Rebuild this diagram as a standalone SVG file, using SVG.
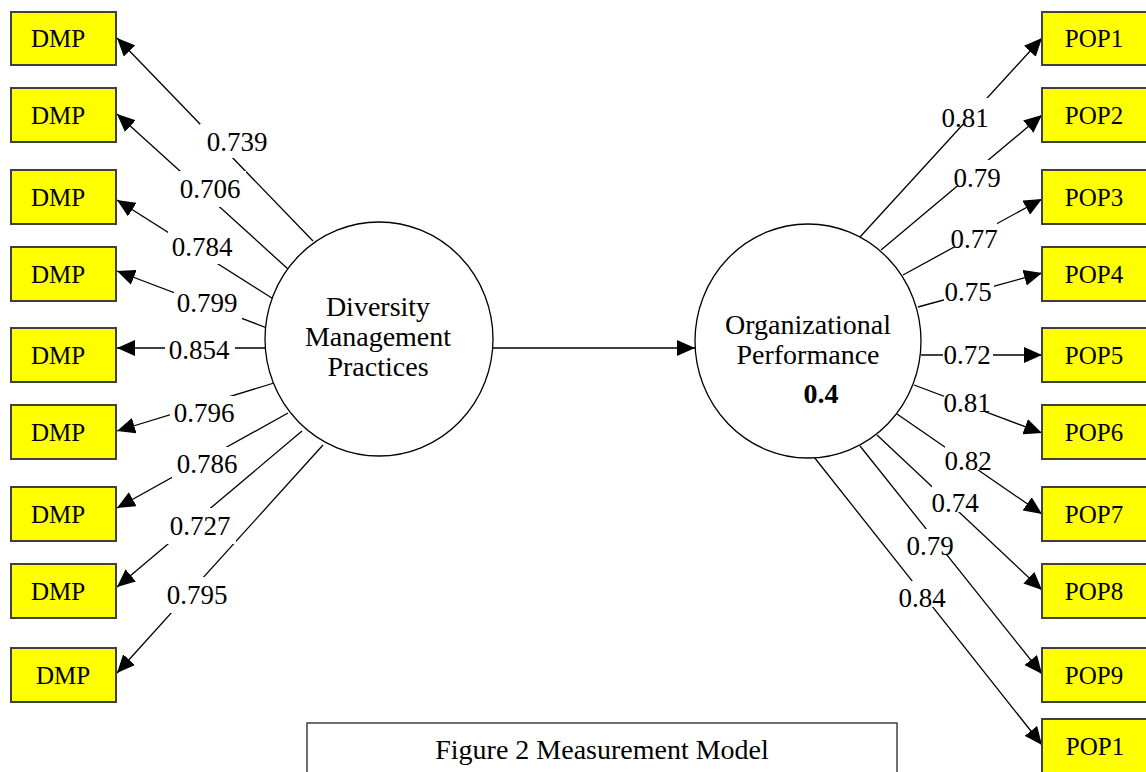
<svg xmlns="http://www.w3.org/2000/svg" width="1146" height="772" viewBox="0 0 1146 772">
<defs>
<marker id="ah" markerWidth="18" markerHeight="16" refX="18" refY="8" orient="auto" markerUnits="userSpaceOnUse">
<path d="M0,0 L18,8 L0,16 Z" fill="#000"/>
</marker>
<style>
.box{fill:#ffff00;stroke:#404040;stroke-width:2}
.bt{font-family:"Liberation Serif","Times New Roman",serif;font-size:25px;fill:#000;text-anchor:middle}
.lat{fill:#fff;stroke:#000;stroke-width:1.3}
.ct{font-family:"Liberation Serif","Times New Roman",serif;font-size:28px;fill:#000;text-anchor:middle}
.edge{stroke:#000;stroke-width:1.3;fill:none;marker-end:url(#ah)}
.lbl{font-family:"Liberation Serif","Times New Roman",serif;font-size:27px;fill:#000;text-anchor:middle}
.bg{fill:#fff}
</style>
</defs>
<rect width="1146" height="772" fill="#fff"/>

<g id="connectors">
<line class="edge" x1="313" y1="241" x2="117" y2="38"/>
<line class="edge" x1="288" y1="269" x2="117" y2="114"/>
<line class="edge" x1="275" y1="300" x2="117" y2="200"/>
<line class="edge" x1="267" y1="328" x2="117" y2="271"/>
<line class="edge" x1="266" y1="348" x2="117" y2="348"/>
<line class="edge" x1="274" y1="383" x2="117" y2="431"/>
<line class="edge" x1="288" y1="413" x2="117" y2="508"/>
<line class="edge" x1="302" y1="431" x2="117" y2="587"/>
<line class="edge" x1="323" y1="445" x2="117" y2="673"/>
<line class="edge" x1="493" y1="348" x2="695" y2="348"/>
<line class="edge" x1="860" y1="237" x2="1042" y2="38"/>
<line class="edge" x1="881" y1="250" x2="1042" y2="115"/>
<line class="edge" x1="903" y1="275" x2="1042" y2="199"/>
<line class="edge" x1="918" y1="307" x2="1042" y2="273"/>
<line class="edge" x1="921" y1="355" x2="1042" y2="355"/>
<line class="edge" x1="914" y1="385" x2="1042" y2="433"/>
<line class="edge" x1="897" y1="414" x2="1042" y2="514"/>
<line class="edge" x1="877" y1="435" x2="1042" y2="590"/>
<line class="edge" x1="860" y1="446" x2="1042" y2="674"/>
<line class="edge" x1="814" y1="457" x2="1042" y2="745"/>
</g>

<g id="edge-labels">
<rect class="bg" x="200" y="124" width="74" height="34"/><text class="lbl" x="237" y="151">0.739</text>
<rect class="bg" x="176" y="171" width="70" height="36"/><text class="lbl" x="210" y="198">0.706</text>
<rect class="bg" x="168" y="230" width="70" height="34"/><text class="lbl" x="202" y="256">0.784</text>
<rect class="bg" x="174" y="287" width="68" height="32"/><text class="lbl" x="207" y="312">0.799</text>
<rect class="bg" x="165" y="334" width="70" height="32"/><text class="lbl" x="199" y="359">0.854</text>
<rect class="bg" x="170" y="396" width="70" height="34"/><text class="lbl" x="204" y="422">0.796</text>
<rect class="bg" x="172" y="447" width="70" height="34"/><text class="lbl" x="207" y="473">0.786</text>
<rect class="bg" x="166" y="508" width="70" height="36"/><text class="lbl" x="200" y="535">0.727</text>
<rect class="bg" x="162" y="577" width="70" height="36"/><text class="lbl" x="197" y="604">0.795</text>

<rect class="bg" x="942" y="98" width="46" height="26"/><text class="lbl" x="965" y="127">0.81</text>
<rect class="bg" x="954" y="160" width="46" height="26"/><text class="lbl" x="977" y="187">0.79</text>
<rect class="bg" x="951" y="221" width="46" height="26"/><text class="lbl" x="974" y="248">0.77</text>
<rect class="bg" x="944" y="280" width="50" height="24"/><text class="lbl" x="968" y="301">0.75</text>
<rect class="bg" x="943" y="342" width="50" height="26"/><text class="lbl" x="967" y="364">0.72</text>
<rect class="bg" x="944" y="385" width="46" height="26"/><text class="lbl" x="967" y="412">0.81</text>
<rect class="bg" x="945" y="444" width="46" height="26"/><text class="lbl" x="968" y="470">0.82</text>
<rect class="bg" x="932" y="486" width="46" height="26"/><text class="lbl" x="955" y="512">0.74</text>
<rect class="bg" x="907" y="529" width="46" height="26"/><text class="lbl" x="930" y="555">0.79</text>
<rect class="bg" x="899" y="581" width="46" height="26"/><text class="lbl" x="922" y="607">0.84</text>
</g>

<g id="DMP_latent">
<ellipse class="lat" cx="379" cy="339" rx="114" ry="117"/>
<text class="ct" x="378" y="316">Diversity</text>
<text class="ct" x="378" y="346">Management</text>
<text class="ct" x="378" y="376">Practices</text>
</g>
<g id="OP_latent">
<ellipse class="lat" cx="808" cy="341" rx="113" ry="117"/>
<text class="ct" x="808" y="334">Organizational</text>
<text class="ct" x="808" y="364">Performance</text>
<text class="ct" x="821" y="403" font-weight="bold">0.4</text>
</g>

<g id="DMP1"><rect class="box" x="11" y="12" width="105" height="53"/><text class="bt" x="58" y="47">DMP</text></g>
<g id="DMP2"><rect class="box" x="11" y="88" width="105" height="54"/><text class="bt" x="58" y="124">DMP</text></g>
<g id="DMP3"><rect class="box" x="11" y="170" width="105" height="54"/><text class="bt" x="58" y="206">DMP</text></g>
<g id="DMP4"><rect class="box" x="11" y="247" width="105" height="54"/><text class="bt" x="58" y="283">DMP</text></g>
<g id="DMP5"><rect class="box" x="11" y="328" width="105" height="54"/><text class="bt" x="58" y="364">DMP</text></g>
<g id="DMP6"><rect class="box" x="11" y="405" width="105" height="54"/><text class="bt" x="58" y="441">DMP</text></g>
<g id="DMP7"><rect class="box" x="11" y="487" width="105" height="54"/><text class="bt" x="58" y="523">DMP</text></g>
<g id="DMP8"><rect class="box" x="11" y="564" width="105" height="54"/><text class="bt" x="58" y="600">DMP</text></g>
<g id="DMP9"><rect class="box" x="11" y="648" width="105" height="54"/><text class="bt" x="63" y="684">DMP</text></g>

<g id="POP1"><rect class="box" x="1042" y="12" width="106" height="53"/><text class="bt" x="1094" y="47">POP1</text></g>
<g id="POP2"><rect class="box" x="1042" y="88" width="106" height="54"/><text class="bt" x="1094" y="124">POP2</text></g>
<g id="POP3"><rect class="box" x="1042" y="170" width="106" height="54"/><text class="bt" x="1094" y="206">POP3</text></g>
<g id="POP4"><rect class="box" x="1042" y="247" width="106" height="54"/><text class="bt" x="1094" y="283">POP4</text></g>
<g id="POP5"><rect class="box" x="1042" y="328" width="106" height="54"/><text class="bt" x="1094" y="364">POP5</text></g>
<g id="POP6"><rect class="box" x="1042" y="405" width="106" height="54"/><text class="bt" x="1094" y="441">POP6</text></g>
<g id="POP7"><rect class="box" x="1042" y="487" width="106" height="54"/><text class="bt" x="1094" y="523">POP7</text></g>
<g id="POP8"><rect class="box" x="1042" y="564" width="106" height="54"/><text class="bt" x="1094" y="600">POP8</text></g>
<g id="POP9"><rect class="box" x="1042" y="648" width="106" height="54"/><text class="bt" x="1094" y="684">POP9</text></g>
<g id="POP10"><rect class="box" x="1042" y="719" width="106" height="60"/><text class="bt" x="1095" y="755">POP1</text></g>

<g id="caption">
<rect x="307" y="723" width="590" height="60" fill="#fff" stroke="#404040" stroke-width="1.5"/>
<text x="602" y="759" font-family="&quot;Liberation Serif&quot;,&quot;Times New Roman&quot;,serif" font-size="28" text-anchor="middle" fill="#000">Figure 2 Measurement Model</text>
</g>
</svg>
